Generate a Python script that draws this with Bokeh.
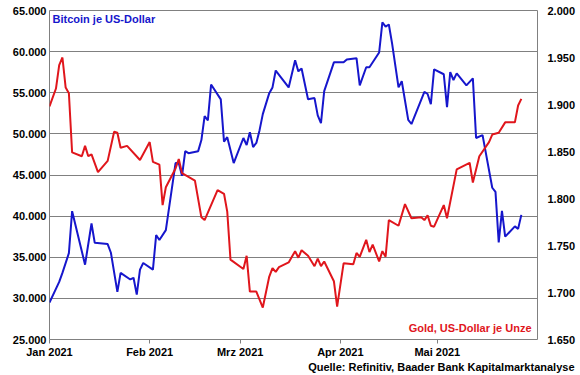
import pandas as pd
from bokeh.plotting import figure
from bokeh.models import Range1d, LinearAxis, FixedTicker, Label, Title
from bokeh.embed import file_html
from bokeh.resources import INLINE

# ---------------- data ----------------
btc_dates = [
    "2021-01-01", "2021-01-04", "2021-01-05", "2021-01-07", "2021-01-08", "2021-01-12",
    "2021-01-14", "2021-01-15", "2021-01-19", "2021-01-20", "2021-01-22", "2021-01-23",
    "2021-01-26", "2021-01-27", "2021-01-28", "2021-01-29", "2021-01-30", "2021-02-02",
    "2021-02-03", "2021-02-04", "2021-02-06", "2021-02-09", "2021-02-10", "2021-02-11",
    "2021-02-12", "2021-02-13", "2021-02-16", "2021-02-17", "2021-02-18", "2021-02-19",
    "2021-02-20", "2021-02-23", "2021-02-24", "2021-02-25", "2021-02-27", "2021-03-02",
    "2021-03-03", "2021-03-04", "2021-03-05", "2021-03-06", "2021-03-07", "2021-03-08",
    "2021-03-10", "2021-03-11", "2021-03-12", "2021-03-16", "2021-03-18", "2021-03-19",
    "2021-03-20", "2021-03-22", "2021-03-24", "2021-03-25", "2021-03-26", "2021-03-27",
    "2021-03-30", "2021-04-02", "2021-04-03", "2021-04-06", "2021-04-07", "2021-04-09",
    "2021-04-10", "2021-04-13", "2021-04-14", "2021-04-15", "2021-04-16", "2021-04-17",
    "2021-04-19", "2021-04-20", "2021-04-22", "2021-04-23", "2021-04-27", "2021-04-28",
    "2021-04-29", "2021-04-30", "2021-05-03", "2021-05-04", "2021-05-05", "2021-05-06",
    "2021-05-07", "2021-05-10", "2021-05-12", "2021-05-13", "2021-05-15", "2021-05-18",
    "2021-05-19", "2021-05-20", "2021-05-21", "2021-05-22", "2021-05-25", "2021-05-26",
    "2021-05-27",
]
btc_values = [
    29500, 32000, 33100, 35500, 40600, 34100,
    39100, 36750, 36600, 35550, 30800, 33100,
    32300, 32500, 30450, 33500, 34300, 33500,
    37700, 37100, 38300, 46450, 46450, 44900,
    47900, 47650, 47900, 49250, 52150, 51650,
    56000, 54200, 49050, 49600, 46450, 49500,
    48650, 50200, 48400, 48900, 50450, 52400,
    54950, 55650, 57700, 55650, 58950, 57600,
    57950, 54200, 54350, 52250, 51300, 55200,
    58700, 58700, 59050, 59200, 55900, 58100,
    58100, 59900, 63550, 63050, 63300, 61000,
    55650, 56400, 51700, 51200, 55100, 54850,
    53600, 57850, 57250, 53250, 57500, 56550,
    57350, 55900, 56750, 49500, 49850, 43450,
    42950, 36800, 40650, 37500, 38750, 38450,
    40150,
]

gold_dates = [
    "2021-01-01", "2021-01-03", "2021-01-04", "2021-01-05", "2021-01-06", "2021-01-07",
    "2021-01-08", "2021-01-11", "2021-01-12", "2021-01-13", "2021-01-14", "2021-01-16",
    "2021-01-19", "2021-01-21", "2021-01-22", "2021-01-23", "2021-01-25", "2021-01-29",
    "2021-02-01", "2021-02-02", "2021-02-04", "2021-02-05", "2021-02-06", "2021-02-09",
    "2021-02-10", "2021-02-11", "2021-02-15", "2021-02-17", "2021-02-18", "2021-02-22",
    "2021-02-24", "2021-02-25", "2021-02-26", "2021-03-02", "2021-03-03", "2021-03-04",
    "2021-03-06", "2021-03-08", "2021-03-10", "2021-03-11", "2021-03-12", "2021-03-13",
    "2021-03-16", "2021-03-18", "2021-03-19", "2021-03-20", "2021-03-22", "2021-03-24",
    "2021-03-25", "2021-03-26", "2021-03-27", "2021-03-30", "2021-03-31", "2021-04-02",
    "2021-04-05", "2021-04-06", "2021-04-07", "2021-04-09", "2021-04-10", "2021-04-11",
    "2021-04-13", "2021-04-14", "2021-04-15", "2021-04-16", "2021-04-19", "2021-04-21",
    "2021-04-23", "2021-04-26", "2021-04-27", "2021-04-28", "2021-04-29", "2021-04-30",
    "2021-05-03", "2021-05-04", "2021-05-07", "2021-05-11", "2021-05-12", "2021-05-14",
    "2021-05-17", "2021-05-18", "2021-05-20", "2021-05-22", "2021-05-25", "2021-05-26",
    "2021-05-27",
]
gold_values = [
    1898, 1917, 1942, 1950, 1918, 1912,
    1849, 1845, 1856, 1845, 1847, 1828,
    1840, 1871, 1870, 1854, 1856, 1841,
    1860, 1839, 1836, 1793, 1812, 1832,
    1842, 1827, 1819, 1780, 1777, 1809,
    1805, 1786, 1735, 1725, 1739, 1701,
    1701, 1684, 1717, 1726, 1722, 1727,
    1732, 1744, 1737, 1745, 1739, 1728,
    1736, 1728, 1733, 1712, 1685, 1731,
    1730, 1742, 1738, 1756, 1743, 1751,
    1733, 1744, 1738, 1777, 1771, 1794,
    1779, 1780, 1777, 1782, 1771, 1770,
    1793, 1779, 1831, 1838, 1817, 1845,
    1860, 1868, 1870, 1881, 1881, 1899,
    1906,
]

month_ticks = ["2021-01-01", "2021-02-01", "2021-03-01", "2021-04-01", "2021-05-01"]
month_labels = ["Jan 2021", "Feb 2021", "Mrz 2021", "Apr 2021", "Mai 2021"]
btc_ticks = [25000, 30000, 35000, 40000, 45000, 50000, 55000, 60000, 65000]
btc_tick_labels = ["25.000", "30.000", "35.000", "40.000", "45.000", "50.000",
                   "55.000", "60.000", "65.000"]
gold_ticks = [1650, 1700, 1750, 1800, 1850, 1900, 1950, 2000]
gold_tick_labels = ["1.650", "1.700", "1.750", "1.800", "1.850", "1.900", "1.950", "2.000"]

btc_title = "Bitcoin je US-Dollar"
gold_title = "Gold, US-Dollar je Unze"
source_text = "Quelle: Refinitiv, Baader Bank Kapitalmarktanalyse"

# ---------------- chart ----------------
FONT = "Liberation Sans"
BLUE = "#1616cc"
RED = "#e0161c"
GRID = "#808080"

btc_x = pd.to_datetime(btc_dates)
gold_x = pd.to_datetime(gold_dates)

p = figure(
    frame_width=488, frame_height=329,
    x_axis_type="datetime",
    x_range=Range1d(pd.Timestamp("2021-01-01"), pd.Timestamp("2021-06-01")),
    y_range=Range1d(25000, 65000),
    output_backend="svg", toolbar_location=None,
    min_border_left=49, min_border_right=43, min_border_top=10, min_border_bottom=36,
)
p.extra_y_ranges = {"gold": Range1d(1650, 2000)}
p.background_fill_color = "white"
p.border_fill_color = "white"
p.outline_line_color = GRID
p.outline_line_width = 1

# x axis
tick_ms = [pd.Timestamp(d).value / 1e6 for d in month_ticks]
p.xaxis.ticker = FixedTicker(ticks=tick_ms)
p.xaxis.major_label_overrides = {t: l for t, l in zip(tick_ms, month_labels)}
p.xaxis.major_tick_out = 4
p.xaxis.major_tick_in = 0
p.xaxis.major_tick_line_color = GRID
p.xaxis.minor_tick_line_color = None
p.xaxis.axis_line_color = None
p.xaxis.major_label_standoff = 2

# left axis
p.yaxis.ticker = FixedTicker(ticks=btc_ticks)
p.yaxis.major_label_overrides = {t: l for t, l in zip(btc_ticks, btc_tick_labels)}
p.yaxis.major_tick_out = 0
p.yaxis.major_tick_in = 0
p.yaxis.minor_tick_line_color = None
p.yaxis.axis_line_color = None
p.yaxis.major_label_standoff = 3

# right axis
gold_ax = LinearAxis(y_range_name="gold", ticker=FixedTicker(ticks=gold_ticks))
gold_ax.major_label_overrides = {t: l for t, l in zip(gold_ticks, gold_tick_labels)}
gold_ax.major_tick_out = 0
gold_ax.major_tick_in = 0
gold_ax.minor_tick_line_color = None
gold_ax.axis_line_color = None
gold_ax.major_label_standoff = 10
p.add_layout(gold_ax, "right")

for ax in [p.xaxis[0], p.yaxis[0], gold_ax]:
    ax.major_label_text_font = FONT
    ax.major_label_text_font_style = "bold"
    ax.major_label_text_font_size = "11px"
    ax.major_label_text_color = "black"

p.xgrid.visible = False
p.ygrid.ticker = FixedTicker(ticks=btc_ticks)
p.ygrid.grid_line_color = GRID
p.ygrid.grid_line_width = 1

p.line(btc_x, btc_values, line_color=BLUE, line_width=2)
p.line(gold_x, gold_values, y_range_name="gold", line_color=RED, line_width=2)

p.add_layout(Label(x=3, y=321, x_units="screen", y_units="screen", text=btc_title,
                   text_color=BLUE, text_font=FONT, text_font_style="bold",
                   text_font_size="11px", text_align="left", text_baseline="middle"))
p.add_layout(Label(x=482, y=12, x_units="screen", y_units="screen", text=gold_title,
                   text_color=RED, text_font=FONT, text_font_style="bold",
                   text_font_size="11px", text_align="right", text_baseline="middle"))

src = Title(text=source_text, align="right", offset=-37, standoff=-4,
            text_font=FONT, text_font_style="bold", text_font_size="11px",
            text_color="black")
p.add_layout(src, "below")

open("out.html", "w").write(file_html(p, INLINE))
